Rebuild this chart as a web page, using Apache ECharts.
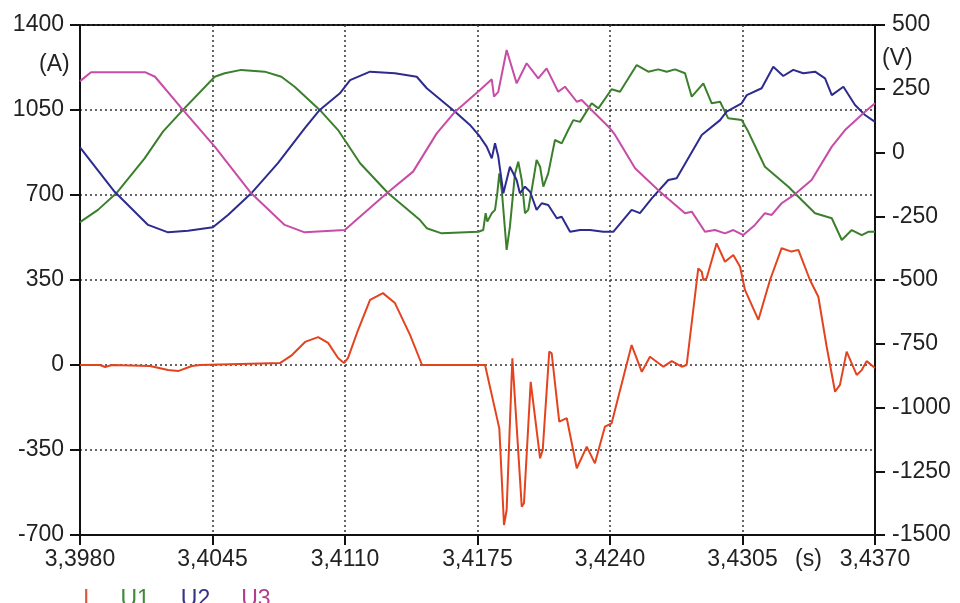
<!DOCTYPE html>
<html>
<head>
<meta charset="utf-8">
<script src="https://cdn.jsdelivr.net/npm/echarts@6/dist/echarts.min.js"></script>
<style>
  html, body { margin: 0; padding: 0; background: #fff; }
  #chart { width: 960px; height: 603px; }
</style>
</head>
<body>
<div id="chart"></div>
<script>
// time axis starts here (s); x values are stored in seconds
var T0 = 3.398;

// current I (A), left axis
var timeI = [3.3980,3.39898,3.39923,3.39957,3.40143,3.40232,3.40281,3.40349,3.40389,3.40781,
  3.40840,3.40904,3.40968,3.41017,3.41066,3.41095,3.41115,3.41164,3.41223,3.41286,
  3.41345,3.41419,3.41478,3.41787,3.41857,3.41880,3.41893,3.41921,3.41967,3.41978,
  3.42011,3.42057,3.42070,3.42102,3.42114,3.42151,3.42188,3.42237,3.42286,3.42326,
  3.42375,3.42408,3.42433,3.42506,3.42556,3.42596,3.42662,3.42703,3.42752,3.42776,
  3.42833,3.42850,3.42858,3.42874,3.42923,3.42964,3.43005,3.43038,3.43062,3.43128,
  3.43185,3.43242,3.43291,3.43324,3.43381,3.43422,3.43463,3.43504,3.43528,3.43561,
  3.43610,3.43635,3.43659,3.43700];
var currentI = [0,0,-8,0,-4,-21,-25,-4,0,8,
  41,95,115,91,29,8,29,144,268,296,
  255,124,0,0,-261,-659,-597,28,-583,-569,
  -69,-384,-350,55,48,-233,-219,-425,-336,-405,
  -254,-240,-158,82,-28,34,-7,16,-7,0,
  398,384,350,357,501,425,453,405,309,186,
  350,481,467,474,350,281,75,-110,-82,55,
  -41,-21,16,-12];

// voltages (V), right axis
var timeU1 = [3.3980,3.39888,3.39978,3.40117,3.40207,3.40305,3.40461,3.40510,3.40591,3.40706,
  3.40788,3.40853,3.40976,3.41066,3.41174,3.41312,3.41468,3.41501,3.41574,3.41754,
  3.41778,3.41790,3.41798,3.41820,3.41836,3.41847,3.41857,3.41869,3.41893,3.41909,
  3.41934,3.41950,3.41967,3.41983,3.41999,3.42024,3.42040,3.42057,3.42073,3.42097,
  3.42130,3.42163,3.42195,3.42220,3.42253,3.42310,3.42343,3.42408,3.42449,3.42531,
  3.42588,3.42637,3.42678,3.42719,3.42768,3.42801,3.42858,3.42899,3.42940,3.42980,
  3.43046,3.43078,3.43160,3.43275,3.43340,3.43406,3.43488,3.43537,3.43586,3.43635,
  3.43667,3.43700];
var voltU1 = [-273,-225,-160,-23,82,167,297,311,324,317,
  297,258,167,88,-42,-160,-265,-297,-317,-311,
  -304,-238,-271,-238,-225,-160,-82,-147,-382,-291,
  -82,-36,-108,-238,-225,-108,-29,-56,-134,-82,
  49,36,88,127,120,193,173,248,238,343,
  317,326,317,326,311,219,271,193,199,134,
  127,82,-56,-134,-186,-238,-258,-343,-304,-324,
  -311,-311];

var timeU2 = [3.3980,3.39970,3.40134,3.40232,3.40330,3.40452,3.40526,3.40640,3.40771,3.40902,
  3.40976,3.41075,3.41125,3.41223,3.41345,3.41452,3.41501,3.41640,3.41713,3.41762,
  3.41795,3.41820,3.41836,3.41852,3.41877,3.41909,3.41942,3.41958,3.41983,3.42008,
  3.42040,3.42065,3.42097,3.42139,3.42163,3.42204,3.42253,3.42302,3.42367,3.42416,
  3.42506,3.42547,3.42605,3.42686,3.42727,3.42850,3.42940,3.42972,3.43046,3.43071,
  3.43144,3.43201,3.43250,3.43299,3.43348,3.43406,3.43455,3.43488,3.43545,3.43602,
  3.43651,3.43700];
var voltU2 = [20,-154,-284,-313,-307,-293,-245,-160,-42,95,
  167,232,284,317,311,297,252,160,108,62,
  23,-23,36,-16,-160,-56,-108,-160,-134,-154,
  -225,-199,-206,-258,-252,-311,-304,-304,-311,-311,
  -225,-238,-180,-108,-101,69,127,160,193,225,
  252,336,300,324,311,317,291,225,258,186,
  147,120];

var timeU3 = [3.3980,3.39854,3.40119,3.40168,3.40305,3.40461,3.40640,3.40804,3.40902,3.41099,
  3.41305,3.41434,3.41550,3.41640,3.41762,3.41820,3.41831,3.41852,3.41893,3.41942,
  3.41991,3.42048,3.42089,3.42146,3.42179,3.42237,3.42261,3.42318,3.42400,3.42425,
  3.42523,3.42645,3.42768,3.42801,3.42866,3.42915,3.42964,3.43005,3.43054,3.43111,
  3.43160,3.43193,3.43242,3.43308,3.43389,3.43488,3.43553,3.43651,3.43700];
var voltU3 = [280,315,315,297,167,23,-160,-284,-313,-304,
  -160,-75,75,160,245,287,219,238,402,271,
  350,291,330,238,258,199,206,160,95,69,
  -62,-154,-238,-232,-311,-304,-317,-304,-324,-284,
  -238,-245,-199,-163,-108,23,88,160,193];

var names = ["I", "U1", "U2", "U3"];
var colors = ["#e4431f", "#3b7f2c", "#2d2b8e", "#c74ca6"];
var legendColors = ["#e0553a", "#3f8a3a", "#34338a", "#b0408f"];

// x in ms after T0 so the 6.5 ms grid starts at 0
function pairs(ts, vs) {
  return ts.map(function (t, i) {
    return [Math.round((t - T0) * 1e6) / 1000, vs[i]];
  });
}

var font = "Liberation Sans, Arial, sans-serif";
var fs = 23;
var dotted = { color: "#333", width: 1.5, type: [2, 3] };
var plain = function (v) { return String(v); };

var chart = echarts.init(document.getElementById("chart"));
var option = {
  animation: false,
  textStyle: { fontFamily: font },
  grid: {
    left: 80, right: 85, top: 25, bottom: 68,
    show: true, borderColor: "#111", borderWidth: 2
  },
  legend: {
    left: 73, top: 583,
    icon: "none", itemWidth: 0, itemGap: 26,
    selectedMode: false,
    textStyle: { fontSize: fs, fontFamily: font },
    data: names.map(function (n, i) {
      return { name: n, textStyle: { color: legendColors[i] } };
    })
  },
  xAxis: {
    type: "value",
    min: 0, max: 39, interval: 6.5,
    axisLine: { onZero: false, lineStyle: { color: "#111", width: 2 } },
    axisTick: { length: 10, lineStyle: { color: "#111", width: 2 } },
    axisLabel: {
      fontSize: fs, color: "#222", margin: 13,
      formatter: function (v) {
        return (T0 + v / 1000).toFixed(4).replace(".", ",");
      }
    },
    splitLine: { lineStyle: dotted }
  },
  yAxis: [
    {
      type: "value", position: "left",
      min: -700, max: 1400, interval: 350,
      axisLine: { show: true, onZero: false, lineStyle: { color: "#111", width: 2 } },
      axisTick: { show: true, length: 10, lineStyle: { color: "#111", width: 2 } },
      axisLabel: { fontSize: fs, color: "#222", margin: 16, formatter: plain },
      splitLine: { lineStyle: dotted }
    },
    {
      type: "value", position: "right",
      min: -1500, max: 500, interval: 250,
      axisLine: { show: true, onZero: false, lineStyle: { color: "#111", width: 2 } },
      axisTick: { show: true, length: 10, lineStyle: { color: "#111", width: 2 } },
      axisLabel: { fontSize: fs, color: "#222", margin: 17, formatter: plain },
      splitLine: { show: false }
    }
  ],
  graphic: [
    { type: "text", left: 39, top: 53, style: { text: "(A)", font: fs + "px " + font, fill: "#222" } },
    { type: "text", left: 882, top: 47, style: { text: "(V)", font: fs + "px " + font, fill: "#222" } },
    { type: "text", left: 795, top: 548, style: { text: "(s)", font: fs + "px " + font, fill: "#222" } }
  ],
  series: [
    { name: "I", data: pairs(timeI, currentI), yAxisIndex: 0 },
    { name: "U1", data: pairs(timeU1, voltU1), yAxisIndex: 1 },
    { name: "U2", data: pairs(timeU2, voltU2), yAxisIndex: 1 },
    { name: "U3", data: pairs(timeU3, voltU3), yAxisIndex: 1 }
  ].map(function (s, i) {
    s.type = "line";
    s.showSymbol = false;
    s.color = colors[i];
    s.lineStyle = { width: 2, color: colors[i] };
    return s;
  })
};
chart.setOption(option);
</script>
</body>
</html>
